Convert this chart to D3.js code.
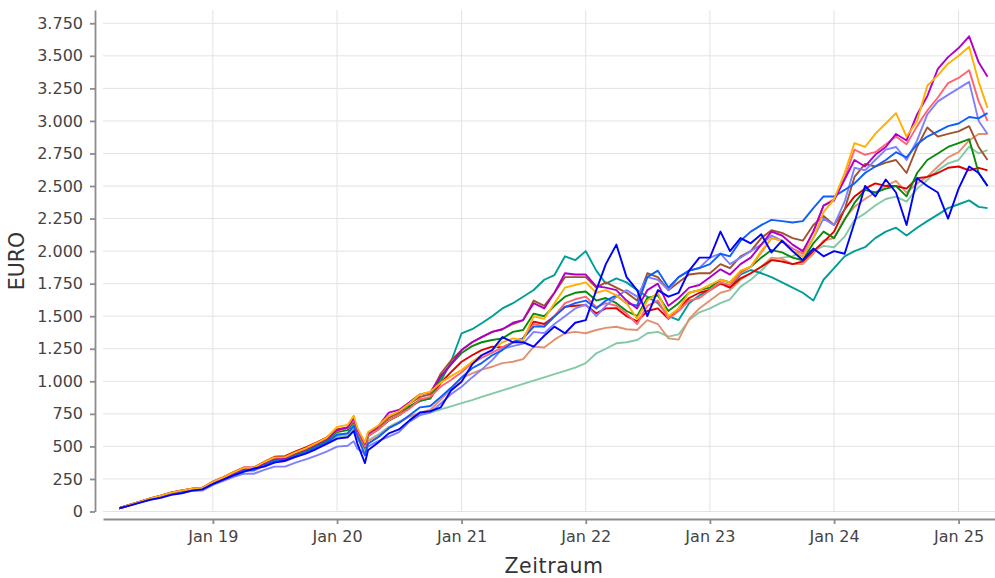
<!DOCTYPE html>
<html lang="de">
<head>
  <meta charset="UTF-8">
  <title>Depotentwicklung</title>
  <script src="https://d3js.org/d3.v7.min.js"></script>
  <style>
    body {
      margin: 0;
      background: #fff;
      font-family: 'DejaVu Sans', sans-serif;
    }
    .grid line {
      stroke: #e3e3e3;
      stroke-width: 1;
    }
    .axis path, .axis line {
      stroke: #8c8c8c;
      stroke-width: 1.8;
    }
    .axis text {
      fill: #444;
      font-size: 16px;
      font-family: 'DejaVu Sans', sans-serif;
    }
    .axis-title {
      fill: #333;
      font-size: 20.5px;
    }
    .series {
      fill: none;
      stroke-width: 1.9;
      stroke-linejoin: round;
    }
  </style>
</head>
<body>
  <svg width="995" height="578"></svg>

  <script>
    // month points (plus the Feb/Mar 2020 peak and trough and the last day)
    const dates = [
      "2018-04-01","2018-05-01","2018-06-01","2018-07-01","2018-08-01","2018-09-01","2018-10-01","2018-11-01","2018-12-01",
      "2019-01-01","2019-02-01","2019-03-01","2019-04-01","2019-05-01","2019-06-01","2019-07-01","2019-08-01","2019-09-01","2019-10-01","2019-11-01","2019-12-01",
      "2020-01-01","2020-02-01","2020-02-19","2020-03-01","2020-03-23","2020-04-01","2020-05-01","2020-06-01","2020-07-01","2020-08-01","2020-09-01","2020-10-01","2020-11-01","2020-12-01",
      "2021-01-01","2021-02-01","2021-03-01","2021-04-01","2021-05-01","2021-06-01","2021-07-01","2021-08-01","2021-09-01","2021-10-01","2021-11-01","2021-12-01",
      "2022-01-01","2022-02-01","2022-03-01","2022-04-01","2022-05-01","2022-06-01","2022-07-01","2022-08-01","2022-09-01","2022-10-01","2022-11-01","2022-12-01",
      "2023-01-01","2023-02-01","2023-03-01","2023-04-01","2023-05-01","2023-06-01","2023-07-01","2023-08-01","2023-09-01","2023-10-01","2023-11-01","2023-12-01",
      "2024-01-01","2024-02-01","2024-03-01","2024-04-01","2024-05-01","2024-06-01","2024-07-01","2024-08-01","2024-09-01","2024-10-01","2024-11-01","2024-12-01",
      "2025-01-01","2025-02-01","2025-03-01","2025-03-27"
    ];

    const xTickDates = ["2019-01-01","2020-01-01","2021-01-01","2022-01-01","2023-01-01","2024-01-01","2025-01-01"];
    const xTickLabels = ["Jan 19","Jan 20","Jan 21","Jan 22","Jan 23","Jan 24","Jan 25"];
    const yTicks = [0, 250, 500, 750, 1000, 1250, 1500, 1750, 2000, 2250, 2500, 2750, 3000, 3250, 3500, 3750];

    const lightGreen = [
      25, 49, 73, 97, 119, 140, 153, 168, 172,
      218, 250, 283, 316, 318, 356, 388, 392, 428, 457, 493, 530,
      575, 585, 640, 575, 470, 545, 590, 650, 690, 728, 745, 760, 785, 808,
      832, 856, 880, 905, 930, 955, 980, 1005, 1030, 1055, 1080, 1105,
      1140, 1215, 1250, 1292, 1300, 1317, 1369, 1380, 1343, 1360, 1470, 1530,
      1560, 1600, 1630, 1727, 1780, 1850, 1931, 1950, 1960, 2008, 2000, 2040,
      2030, 2111, 2239, 2290, 2350, 2400, 2418, 2380, 2480, 2546, 2620, 2674,
      2700, 2802, 2750, 2776
    ];
    const salmon = [
      25, 49, 72, 96, 117, 138, 150, 165, 168,
      214, 245, 278, 310, 312, 350, 380, 385, 418, 447, 482, 518,
      560, 570, 620, 560, 470, 540, 580, 640, 680, 730, 760, 780, 860, 940,
      1025, 1060, 1090, 1112, 1140, 1150, 1170, 1266, 1260, 1320, 1369, 1380,
      1369, 1394, 1410, 1419, 1400, 1394, 1470, 1440, 1330, 1320, 1480, 1560,
      1620, 1680, 1700, 1780, 1830, 1880, 1950, 1940, 1900, 1900, 1980, 2080,
      2100, 2250, 2340, 2400, 2450, 2500, 2540, 2450, 2520, 2570, 2650, 2720,
      2760, 2850, 2900, 2900
    ];
    const teal = [
      25, 49, 73, 97, 119, 141, 154, 170, 174,
      220, 252, 286, 320, 322, 362, 395, 398, 434, 463, 500, 538,
      590, 600, 660, 590, 500, 580, 640, 700, 740, 800, 850, 870, 1000, 1150,
      1369, 1400, 1446, 1500, 1560, 1600, 1650, 1701, 1780, 1816, 1960, 1930,
      2000, 1850, 1750, 1790, 1760, 1700, 1650, 1600, 1500, 1470, 1600, 1660,
      1700, 1760, 1720, 1820, 1855, 1830, 1800, 1760, 1720, 1680, 1620, 1780,
      1870, 1960, 2000, 2030, 2100, 2150, 2180, 2120, 2180, 2230, 2280, 2330,
      2360, 2390, 2340, 2330
    ];
    const red = [
      25, 50, 75, 100, 122, 146, 162, 176, 182,
      230, 264, 300, 338, 338, 382, 420, 425, 462, 492, 530, 568,
      630, 645, 700, 610, 500, 580, 630, 700, 740, 800, 860, 870, 990, 1070,
      1150, 1200, 1240, 1266, 1260, 1300, 1330, 1458, 1440, 1500, 1573, 1580,
      1586, 1522, 1560, 1561, 1500, 1460, 1540, 1560, 1480, 1560, 1640, 1680,
      1701, 1750, 1720, 1791, 1830, 1880, 1931, 1920, 1900, 1920, 2000, 2070,
      2150, 2320, 2420, 2480, 2520, 2500, 2500, 2480, 2560, 2570, 2600, 2640,
      2650, 2620, 2640, 2620
    ];
    const green = [
      25, 50, 74, 98, 120, 142, 156, 172, 176,
      224, 256, 290, 326, 326, 368, 402, 405, 440, 470, 508, 545,
      610, 625, 690, 600, 490, 580, 635, 700, 740, 810, 850, 870, 1030, 1130,
      1217, 1270, 1300, 1317, 1330, 1380, 1394, 1520, 1500, 1580, 1650, 1680,
      1690, 1620, 1640, 1600, 1540, 1500, 1640, 1660, 1540, 1600, 1680, 1700,
      1720, 1780, 1760, 1840, 1880, 1950, 2008, 1990, 1950, 1930, 2060, 2150,
      2100, 2240, 2370, 2470, 2450, 2480, 2500, 2420, 2600, 2700, 2750, 2800,
      2830, 2860, 2600, 2500
    ];
    const brown = [
      25, 50, 75, 100, 121, 144, 160, 175, 180,
      226, 260, 296, 333, 333, 376, 412, 415, 452, 482, 522, 560,
      625, 640, 700, 610, 500, 590, 650, 720, 760, 830, 880, 900, 1060, 1160,
      1240, 1300, 1340, 1380, 1400, 1440, 1470, 1620, 1580, 1680, 1800, 1800,
      1800, 1720, 1760, 1720, 1680, 1620, 1830, 1800, 1700, 1760, 1820, 1830,
      1830, 1900, 1870, 1960, 2000, 2100, 2160, 2140, 2100, 2080, 2200, 2270,
      2200, 2320, 2570, 2670, 2650, 2680, 2700, 2600, 2800, 2950, 2880, 2900,
      2920, 2960, 2800, 2700
    ];
    const pink = [
      25, 50, 74, 99, 121, 144, 158, 173, 180,
      226, 260, 295, 332, 333, 375, 410, 412, 450, 480, 518, 558,
      620, 640, 705, 610, 500, 580, 630, 700, 740, 790, 860, 880, 960, 1010,
      1070, 1140, 1180, 1220, 1260, 1300, 1330, 1440, 1420, 1500, 1600, 1630,
      1650, 1570, 1600, 1580, 1520, 1440, 1580, 1620, 1480, 1540, 1620, 1640,
      1700, 1760, 1740, 1830, 1880, 1990, 2100, 2080, 2020, 1980, 2150, 2350,
      2400, 2560, 2780, 2740, 2760, 2820, 2880, 2820, 2960, 3080, 3180, 3290,
      3330, 3390, 3150, 3000
    ];
    const lavender = [
      25, 48, 70, 92, 112, 132, 142, 158, 160,
      205, 235, 265, 290, 290, 320, 345, 345, 375, 400, 430, 460,
      498, 505, 540, 480, 449, 500, 540, 575, 610, 690, 740, 760, 830, 900,
      958, 1030, 1090, 1163, 1250, 1270, 1290, 1380, 1370, 1440, 1500, 1560,
      1590, 1500, 1580, 1650, 1700, 1650, 1800, 1780, 1700, 1800, 1850, 1870,
      1950, 1980, 1900, 1950, 2000, 2050, 2120, 2080, 2000, 1960, 2100, 2250,
      2200, 2380, 2640, 2620, 2700, 2780, 2800, 2700, 2850, 3050, 3150, 3200,
      3250, 3300, 3000, 2900
    ];
    const azure = [
      25, 49, 73, 97, 119, 140, 152, 168, 172,
      218, 250, 282, 315, 318, 355, 385, 390, 425, 455, 490, 528,
      590, 600, 660, 580, 430, 520, 570, 640, 680, 740, 800, 810, 880, 950,
      1030, 1100, 1140, 1200, 1240, 1300, 1330, 1420, 1420, 1500, 1570, 1600,
      1620, 1560, 1620, 1660, 1600, 1580, 1800, 1850, 1720, 1800, 1850, 1870,
      1900, 1980, 1960, 2080, 2150, 2200, 2240, 2230, 2220, 2230, 2330, 2420,
      2420, 2470, 2520, 2600, 2650, 2700, 2760, 2720, 2820, 2880, 2920, 2960,
      2980, 3030, 3020, 3060
    ];
    const violet = [
      25, 50, 74, 98, 120, 143, 158, 172, 178,
      225, 258, 292, 330, 330, 372, 408, 410, 448, 478, 515, 555,
      625, 645, 720, 625, 520, 600, 655, 760, 780, 840, 900, 915, 1040, 1130,
      1240, 1300, 1340, 1380, 1400, 1450, 1470, 1600, 1560, 1680, 1830, 1820,
      1820, 1730, 1720, 1700, 1620, 1560, 1700, 1750, 1580, 1640, 1720, 1740,
      1800, 1860, 1820, 1900, 1950, 2050, 2150, 2120, 2050, 2000, 2150, 2350,
      2390, 2550, 2700, 2650, 2740, 2800, 2900, 2850, 3050, 3190, 3400, 3490,
      3560, 3650, 3450, 3340
    ];
    const orange = [
      25, 50, 75, 100, 122, 145, 160, 175, 180,
      228, 262, 298, 335, 335, 380, 415, 418, 455, 485, 525, 565,
      650, 665, 735, 640, 530, 610, 660, 735, 770, 830, 900, 920, 990, 1040,
      1087, 1150, 1200, 1240, 1300, 1330, 1317, 1500, 1480, 1600, 1720, 1740,
      1760, 1680, 1700, 1660, 1600, 1480, 1620, 1680, 1500, 1560, 1680, 1700,
      1740, 1780, 1760, 1850, 1880, 2000, 2100, 2080, 2000, 1957, 2100, 2300,
      2400, 2600, 2830, 2800, 2900, 2980, 3060, 2880, 3000, 3270, 3350, 3440,
      3500, 3570, 3300, 3100
    ];
    const blue = [
      25, 45, 68, 90, 105, 128, 140, 160, 170,
      210, 245, 275, 305, 330, 345, 375, 390, 420, 445, 480, 520,
      560, 570, 620, 520, 372, 470, 530, 600, 630, 700, 760, 770, 800, 930,
      997, 1130, 1200, 1240, 1340, 1300, 1300, 1266, 1350, 1420, 1369, 1450,
      1470, 1700, 1900, 2050, 1800, 1700, 1500, 1700, 1650, 1680, 1850, 1950,
      1950, 2150, 2000, 2100, 2060, 2130, 1990, 2080, 2000, 1930, 2020, 1960,
      2000, 1980, 2220, 2500, 2420, 2550, 2450, 2200, 2560, 2500, 2450, 2250,
      2480, 2650, 2600, 2500
    ];

    const series = [
      {values: lightGreen, color: "#82c9a5"},
      {values: salmon,     color: "#e2916f"},
      {values: teal,       color: "#009c96"},
      {values: red,        color: "#e00000"},
      {values: green,      color: "#0a8a0a"},
      {values: brown,      color: "#a0522d"},
      {values: pink,       color: "#ff6474"},
      {values: lavender,   color: "#8080ff"},
      {values: azure,      color: "#0d5eff"},
      {values: violet,     color: "#b000c8"},
      {values: orange,     color: "#ffb000"},
      {values: blue,       color: "#0000ff"}
    ];

    const parse = d3.timeParse("%Y-%m-%d");
    const xDates = dates.map(parse);

    const de = d3.formatLocale({decimal: ",", thousands: ".", grouping: [3], currency: ["", " €"]});
    const fmt = de.format(",");

    const svg = d3.select("svg");

    const x = d3.scaleTime()
      .domain([new Date(2018, 1, 12), new Date(2025, 3, 18)])
      .range([103, 995]);

    const y = d3.scaleLinear()
      .domain([0, 3852])
      .range([511.5, 10]);

    // grid
    const grid = svg.append("g").attr("class", "grid");
    grid.selectAll(".h")
      .data(yTicks)
      .enter().append("line")
        .attr("x1", 103).attr("x2", 995)
        .attr("y1", d => y(d)).attr("y2", d => y(d));
    grid.selectAll(".v")
      .data(xTickDates.map(parse))
      .enter().append("line")
        .attr("x1", d => x(d)).attr("x2", d => x(d))
        .attr("y1", 10).attr("y2", 511.5);

    // lines
    const line = d3.line()
      .x((d, i) => x(xDates[i]))
      .y(d => y(d));

    svg.append("g").selectAll("path")
      .data(series)
      .enter().append("path")
        .attr("class", "series")
        .attr("stroke", d => d.color)
        .attr("d", d => line(d.values));

    // axes
    svg.append("g")
      .attr("class", "axis")
      .attr("transform", "translate(95,0)")
      .call(d3.axisLeft(y).tickValues(yTicks).tickFormat(fmt).tickSize(5).tickSizeOuter(0).tickPadding(7));

    svg.append("g")
      .attr("class", "axis")
      .attr("transform", "translate(0,519)")
      .call(d3.axisBottom(x)
        .tickValues(xTickDates.map(parse))
        .tickFormat((d, i) => xTickLabels[i])
        .tickSize(5).tickSizeOuter(0).tickPadding(7));

    svg.selectAll(".axis .domain").attr("stroke", "#8c8c8c");

    // titles
    svg.append("text")
      .attr("class", "axis-title")
      .attr("text-anchor", "middle")
      .attr("transform", "translate(24,261) rotate(-90)")
      .text("EURO");

    svg.append("text")
      .attr("class", "axis-title")
      .attr("text-anchor", "middle")
      .attr("letter-spacing", "0.6px")
      .attr("x", 554)
      .attr("y", 573)
      .text("Zeitraum");
  </script>
</body>
</html>
